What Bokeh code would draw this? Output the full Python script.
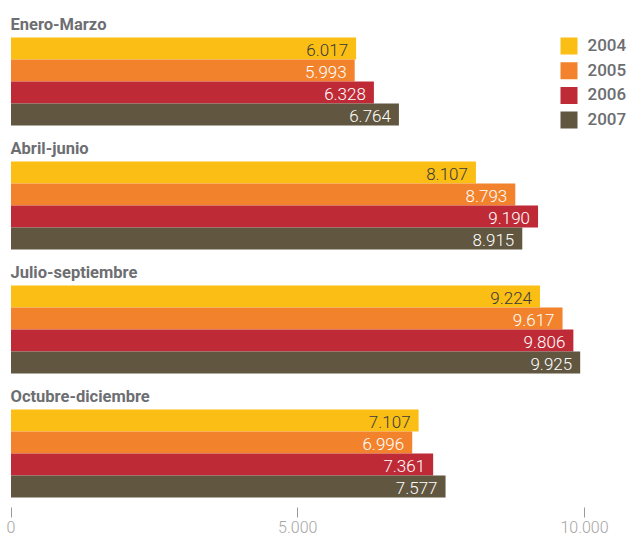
from bokeh.plotting import figure
from bokeh.models import Range1d, FixedTicker, ColumnDataSource
from bokeh.core.properties import value
from bokeh.embed import file_html
from bokeh.resources import INLINE

# ---------------- data ----------------
quarters = ["Enero-Marzo", "Abril-junio", "Julio-septiembre", "Octubre-diciembre"]
years = ["2004", "2005", "2006", "2007"]
v2004 = [6017, 8107, 9224, 7107]
v2005 = [5993, 8793, 9617, 6996]
v2006 = [6328, 9190, 9806, 7361]
v2007 = [6764, 8915, 9925, 7577]
series = [v2004, v2005, v2006, v2007]
colors = ["#FBBE14", "#F2832C", "#BF2A37", "#615640"]
label_colors = ["#3a3a3a", "#ffffff", "#ffffff", "#ffffff"]
ticks = [0, 5000, 10000]
tick_labels = ["0", "5.000", "10.000"]

# ---------------- layout (pixels of the page) ----------------
W, H = 631, 535
X0 = 10.5                    # page x of value 0
PX_PER_UNIT = 0.05735        # pixels per unit on x
AXIS_H = 28                  # estimated height of the bottom axis panel
GROUP_TOP0 = 37              # page y of the first bar's top edge
GROUP_PITCH = 124
BAR_H = 22
TITLE_GAP = 13               # from bar top up to the middle of the title

x_start = -X0 / PX_PER_UNIT
x_end = x_start + W / PX_PER_UNIT


def px_to_x(px):
    return (px - X0) / PX_PER_UNIT


def fmt(v):
    return f"{v:,}".replace(",", ".")


LIGHT = "Roboto Light, Roboto"

p = figure(
    width=W, height=H,
    x_range=Range1d(x_start, x_end),
    y_range=Range1d(H - AXIS_H, 0),
    output_backend="svg", toolbar_location=None,
    min_border=0, min_border_left=0, min_border_right=0,
    min_border_top=0, min_border_bottom=0,
)
p.outline_line_color = None
p.background_fill_color = "white"
p.border_fill_color = "white"
p.xgrid.visible = False
p.ygrid.visible = False
p.yaxis.visible = False

ax = p.xaxis[0]
ax.ticker = FixedTicker(ticks=ticks)
ax.major_label_overrides = {t: l for t, l in zip(ticks, tick_labels)}
ax.axis_line_color = None
ax.major_tick_line_color = "#9a9a9a"
ax.major_tick_in = 0
ax.major_tick_out = 10
ax.minor_tick_line_color = None
ax.major_label_standoff = 3
ax.major_label_text_font = LIGHT
ax.major_label_text_font_size = "16px"
ax.major_label_text_color = "#a6a6a6"

# bars and value labels
for i, (vals, col, lcol) in enumerate(zip(series, colors, label_colors)):
    ys = [GROUP_TOP0 + g * GROUP_PITCH + i * BAR_H + BAR_H / 2 for g in range(len(quarters))]
    src = ColumnDataSource(dict(y=ys, v=vals, t=[fmt(v) for v in vals]))
    p.hbar(y="y", left=0, right="v", height=BAR_H, source=src,
           fill_color=col, line_color=None)
    p.text(x="v", y="y", text="t", source=src, x_offset=-8, y_offset=1,
           text_align="right", text_baseline="middle",
           text_font=value(LIGHT), text_font_size="17px", text_color=lcol)

# group titles
tsrc = ColumnDataSource(dict(
    x=[px_to_x(10)] * len(quarters),
    y=[GROUP_TOP0 + g * GROUP_PITCH - TITLE_GAP for g in range(len(quarters))],
    t=quarters,
))
p.text(x="x", y="y", text="t", source=tsrc, text_align="left",
       text_baseline="middle", text_font=value("Roboto"),
       text_font_style="bold", text_font_size="16.5px", text_color="#6d6e71")

# legend
LEG_X = 560
LEG_TOP = 37
LEG_PITCH = 24.7
LEG_SQ = 17
lsrc = ColumnDataSource(dict(
    x=[px_to_x(LEG_X + LEG_SQ / 2)] * len(years),
    y=[LEG_TOP + k * LEG_PITCH + LEG_SQ / 2 for k in range(len(years))],
    tx=[px_to_x(LEG_X + LEG_SQ + 10)] * len(years),
    ty=[LEG_TOP + k * LEG_PITCH + 7.5 for k in range(len(years))],
    c=colors, t=years,
))
p.rect(x="x", y="y", width=LEG_SQ, height=LEG_SQ, width_units="screen",
       height_units="screen", fill_color="c", line_color=None, source=lsrc)
p.text(x="tx", y="ty", text="t", source=lsrc, text_align="left",
       text_baseline="middle", text_font=value("Roboto Medium, Roboto"),
       text_font_size="17px", text_color="#6d6e71")

open("out.html", "w").write(file_html(p, INLINE))
